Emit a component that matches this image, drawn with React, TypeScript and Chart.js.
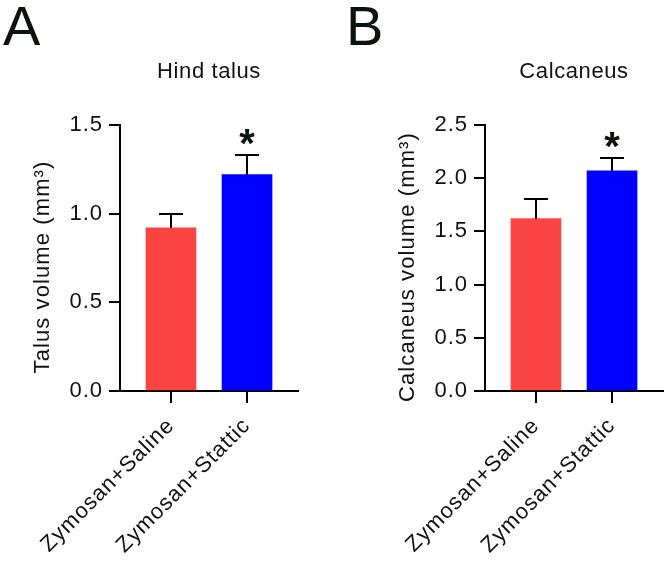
import React, { useEffect, useRef } from 'react';
import { Chart, registerables } from 'chart.js';

Chart.register(...registerables);

// ---------- data ----------
const categories = ['Zymosan+Saline', 'Zymosan+Stattic'];
const categoryPositions = [0, 1];
const barColors = ['#FA4444', '#0000FF'];
const significant = [false, true];

const talusMeans = [0.92, 1.22];
const talusErrors = [0.08, 0.11];
const talusTicks = [0, 0.5, 1.0, 1.5];

const calcaneusMeans = [1.62, 2.07];
const calcaneusErrors = [0.18, 0.12];
const calcaneusTicks = [0, 0.5, 1.0, 1.5, 2.0, 2.5];

const FONT = "'Liberation Sans', Arial, Helvetica, sans-serif";
const TEXT = '#111111';

type Panel = {
  letter: string;
  title: string;
  yTitle: string;
  means: number[];
  errors: number[];
  ticks: number[];
  yAxisWidth: number;
  padRight: number;
  letterX: number;
  yTitleX: number;
};

const panels: Panel[] = [
  {
    letter: 'A',
    title: 'Hind talus',
    yTitle: 'Talus volume (mm³)',
    means: talusMeans,
    errors: talusErrors,
    ticks: talusTicks,
    yAxisWidth: 120,
    padRight: 35,
    letterX: 3,
    yTitleX: 49,
  },
  {
    letter: 'B',
    title: 'Calcaneus',
    yTitle: 'Calcaneus volume (mm³)',
    means: calcaneusMeans,
    errors: calcaneusErrors,
    ticks: calcaneusTicks,
    yAxisWidth: 152,
    padRight: 4,
    letterX: 13,
    yTitleX: 81,
  },
];

function decorPlugin(p: Panel) {
  return {
    id: 'decor' + p.letter,
    beforeDraw(chart: any) {
      (chart.ctx as any).letterSpacing = '1px';
    },
    afterDatasetsDraw(chart: any) {
      const ctx = chart.ctx as CanvasRenderingContext2D;
      const xs = chart.scales.x;
      const ys = chart.scales.y;
      ctx.save();
      ctx.strokeStyle = '#000';
      ctx.lineWidth = 2;
      p.means.forEach((m, i) => {
        const x = Math.round(xs.getPixelForValue(categoryPositions[i]));
        const yTop = ys.getPixelForValue(m);
        const yErr = Math.round(ys.getPixelForValue(m + p.errors[i]));
        ctx.beginPath();
        ctx.moveTo(x, yTop);
        ctx.lineTo(x, yErr);
        ctx.moveTo(x - 12, yErr);
        ctx.lineTo(x + 12, yErr);
        ctx.stroke();
        if (significant[i]) {
          ctx.font = `bold 40px ${FONT}`;
          (ctx as any).letterSpacing = '0px';
          ctx.fillStyle = '#0a140a';
          ctx.textAlign = 'center';
          ctx.textBaseline = 'alphabetic';
          const mt = ctx.measureText('*');
          const cy = yErr - 18;
          const base = cy - (mt.actualBoundingBoxDescent - mt.actualBoundingBoxAscent) / 2;
          ctx.fillText('*', x, base);
        }
      });
      ctx.restore();
    },
    afterDraw(chart: any) {
      const ctx = chart.ctx as CanvasRenderingContext2D;
      const area = chart.chartArea;
      ctx.save();
      // panel letter
      (ctx as any).letterSpacing = '0px';
      ctx.fillStyle = '#0a140a';
      ctx.font = `56px ${FONT}`;
      ctx.textAlign = 'left';
      ctx.textBaseline = 'alphabetic';
      ctx.fillText(p.letter, p.letterX, 45);
      // panel title
      (ctx as any).letterSpacing = '0.6px';
      ctx.fillStyle = TEXT;
      ctx.font = `22px ${FONT}`;
      ctx.textAlign = 'center';
      ctx.fillText(p.title, (area.left + area.right) / 2, 78);
      // y title
      (ctx as any).letterSpacing = '1.1px';
      ctx.translate(p.yTitleX, (area.top + area.bottom) / 2 + 9);
      ctx.rotate(-Math.PI / 2);
      ctx.fillText(p.yTitle, 0, 0);
      ctx.restore();
    },
  };
}

function buildChart(canvas: HTMLCanvasElement, p: Panel) {
  const yMax = p.ticks[p.ticks.length - 1];
  return new Chart(canvas, {
    type: 'bar',
    data: {
      datasets: [
        {
          data: p.means.map((v, i) => ({ x: categoryPositions[i], y: v })) as any,
          backgroundColor: barColors,
          borderWidth: 0,
          barThickness: 50,
        },
      ],
    },
    options: {
      animation: false,
      responsive: false,
      maintainAspectRatio: false,
      events: [],
      layout: { padding: { top: 125, left: 0, right: p.padRight, bottom: 0 } },
      plugins: {
        legend: { display: false },
        tooltip: { enabled: false },
        title: { display: false },
      },
      scales: {
        x: {
          type: 'linear',
          min: -0.67,
          max: 1.67,
          offset: false,
          afterBuildTicks: (s: any) => {
            s.ticks = categoryPositions.map((v) => ({ value: v }));
          },
          afterFit: (s: any) => {
            s.height = 171;
            s.paddingLeft = 0;
            s.paddingRight = 0;
          },
          grid: {
            display: true,
            offset: false,
            drawOnChartArea: false,
            drawTicks: true,
            tickLength: 12,
            color: '#000',
            lineWidth: 2,
          },
          border: { display: true, color: '#000', width: 2 },
          ticks: {
            autoSkip: false,
            minRotation: 45,
            maxRotation: 45,
            padding: 10,
            color: TEXT,
            font: { family: FONT, size: 22 },
            callback: (v: any) => {
              const idx = categoryPositions.indexOf(Number(v));
              return idx >= 0 ? categories[idx] : '';
            },
          },
        },
        y: {
          type: 'linear',
          min: 0,
          max: yMax,
          afterBuildTicks: (s: any) => {
            s.ticks = p.ticks.map((v) => ({ value: v }));
          },
          afterFit: (s: any) => {
            s.width = p.yAxisWidth;
          },
          grid: {
            display: true,
            drawOnChartArea: false,
            drawTicks: true,
            tickLength: 11,
            color: '#000',
            lineWidth: 2,
          },
          border: { display: true, color: '#000', width: 2 },
          ticks: {
            padding: 6,
            color: TEXT,
            font: { family: FONT, size: 22 },
            callback: (v: any) => Number(v).toFixed(1),
          },
        },
      },
    } as any,
    plugins: [decorPlugin(p) as any],
  });
}

function PanelChart({ p, left, width }: { p: Panel; left: number; width: number }) {
  const ref = useRef<HTMLCanvasElement | null>(null);
  useEffect(() => {
    if (!ref.current) return;
    const chart = buildChart(ref.current, p);
    return () => chart.destroy();
  }, [p]);
  return (
    <canvas
      ref={ref}
      width={width}
      height={562}
      style={{ position: 'absolute', left, top: 0, width, height: 562 }}
    />
  );
}

export default function App() {
  return (
    <div
      style={{
        position: 'fixed',
        left: 0,
        top: 0,
        width: 667,
        height: 562,
        background: '#ffffff',
        overflow: 'hidden',
      }}
    >
      <PanelChart p={panels[0]} left={0} width={333} />
      <PanelChart p={panels[1]} left={333} width={334} />
    </div>
  );
}
